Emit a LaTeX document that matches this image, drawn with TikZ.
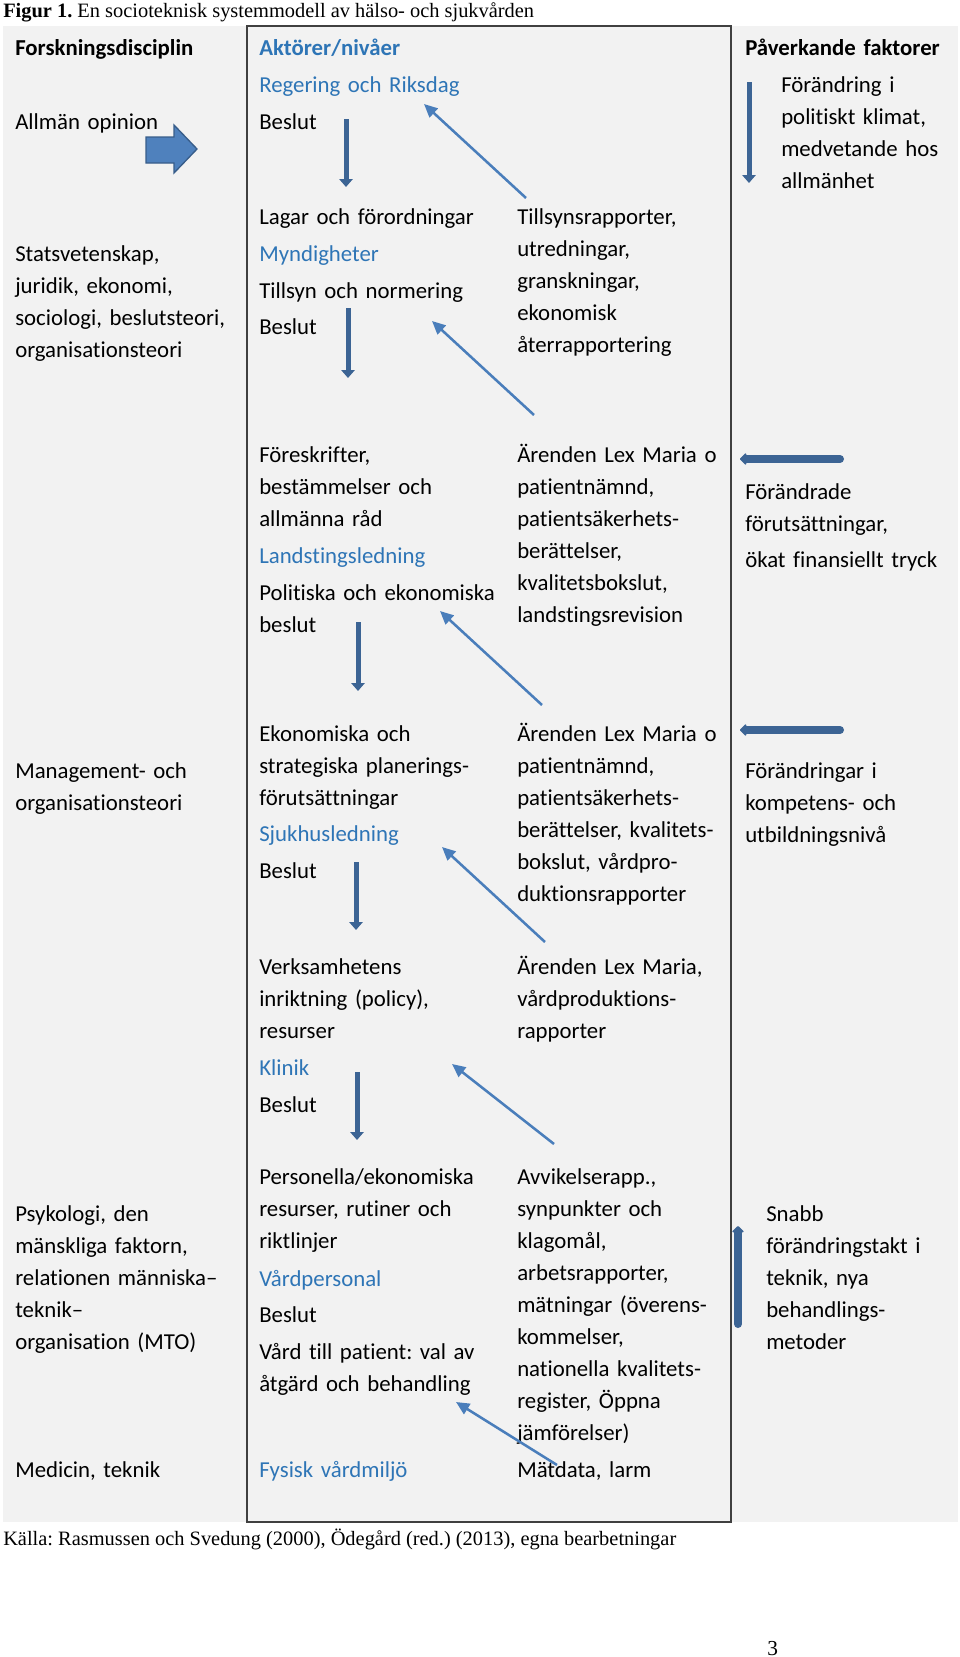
\documentclass[tikz,border=0pt]{standalone}
\usepackage{fontspec}
\setmainfont{Carlito}[Ligatures=NoCommon]
\newfontfamily\tnr{Liberation Serif}
\usetikzlibrary{arrows.meta}
\frenchspacing
\definecolor{bg}{HTML}{F2F2F2}
\definecolor{tblue}{HTML}{2E75B6}
\definecolor{darr}{HTML}{3C6494}
\definecolor{larr}{HTML}{4A7EBB}
\definecolor{bfill}{HTML}{4F81BD}
\definecolor{bdraw}{HTML}{385D8A}
\definecolor{boxline}{HTML}{404040}
\begin{document}
\begin{tikzpicture}[x=0.75pt,y=-0.75pt,
  txt/.style={anchor=base west,inner sep=0pt,align=left,text width=230pt,font=\fontsize{17.1}{24}\selectfont},
  bl/.style={txt,text=tblue},
  hd/.style={txt,font=\fontsize{17.1}{24}\selectfont\bfseries},
  downarr/.style={draw=darr,line width=3.75pt,-{Triangle[length=6pt,width=10pt]}},
  diagarr/.style={draw=larr,line width=1.9pt,-{Triangle[length=10pt,width=9pt]}},
  sidearr/.style={draw=darr,line width=6pt,line cap=round,-{Triangle[length=5pt,width=10pt,round]}},
  caption/.style={anchor=base west,inner sep=0pt,font=\tnr\fontsize{15.3}{18}\selectfont}]
\useasboundingbox (0,0) rectangle (960,1657);
\fill[white] (0,0) rectangle (960,1657);
% backgrounds
\fill[bg] (3,26) rectangle (958,1522);
\draw[boxline,line width=1.1pt] (247,26) rectangle (731,1522);

% title and source
\node[caption] (title) at (3,17) {\textbf{Figur 1.} En socioteknisk systemmodell av hälso- och sjukvården};
\node[caption] (source) at (3,1545) {Källa: Rasmussen och Svedung (2000), Ödegård (red.) (2013), egna bearbetningar};
\node[caption,font=\tnr\fontsize{16}{18}\selectfont] (pnum) at (767,1655) {3};

% column 1
\node[hd] (h1) at (15,55) {Forskningsdisciplin};
\node[txt] (c1a) at (15,129) {Allmän opinion};
\node[txt] (c1b) at (15,261.5) {Statsvetenskap,\\juridik, ekonomi,\\sociologi, beslutsteori,\\organisationsteori};
\node[txt] (c1c) at (15,778) {Management- och\\organisationsteori};
\node[txt] (c1d) at (15,1221.5) {Psykologi, den\\mänskliga faktorn,\\relationen människa–\\teknik–\\organisation (MTO)};
\node[txt] (c1e) at (15,1477.5) {Medicin, teknik};

% column 2
\node[hd,text=tblue] (h2) at (259,55) {Aktörer/nivåer};
\node[bl] (reg) at (259,92) {Regering och Riksdag};
\node[txt] (b1) at (259,129) {Beslut};
\node[txt] (lag) at (259,224.5) {Lagar och förordningar};
\node[bl] (myn) at (259,261.5) {Myndigheter};
\node[txt] (till) at (259,298.5) {Tillsyn och normering};
\node[txt] (b2) at (259,334.5) {Beslut};
\node[txt] (fore) at (259,462.5) {Föreskrifter,\\bestämmelser och\\allmänna råd};
\node[bl] (land) at (259,563) {Landstingsledning};
\node[txt] (pol) at (259,600) {Politiska och ekonomiska\\beslut};
\node[txt] (eko) at (259,741) {Ekonomiska och\\strategiska planerings-\\förutsättningar};
\node[bl] (sjuk) at (259,841.5) {Sjukhusledning};
\node[txt] (b4) at (259,878.5) {Beslut};
\node[txt] (verk) at (259,974) {Verksamhetens\\inriktning (policy),\\resurser};
\node[bl] (klin) at (259,1075.5) {Klinik};
\node[txt] (b5) at (259,1112.5) {Beslut};
\node[txt] (pers) at (259,1184.5) {Personella/ekonomiska\\resurser, rutiner och\\riktlinjer};
\node[bl] (vard) at (259,1286) {Vårdpersonal};
\node[txt] (b6) at (259,1322) {Beslut};
\node[txt] (vpat) at (259,1359) {Vård till patient: val av\\åtgärd och behandling};
\node[bl] (fys) at (259,1477.5) {Fysisk vårdmiljö};

% column 3
\node[txt] (r1) at (517,224.5) {Tillsynsrapporter,\\utredningar,\\granskningar,\\ekonomisk\\återrapportering};
\node[txt] (r2) at (517,462.5) {Ärenden Lex Maria o\\patientnämnd,\\patientsäkerhets-\\berättelser,\\kvalitetsbokslut,\\landstingsrevision};
\node[txt] (r3) at (517,741) {Ärenden Lex Maria o\\patientnämnd,\\patientsäkerhets-\\berättelser, kvalitets-\\bokslut, vårdpro-\\duktionsrapporter};
\node[txt] (r4) at (517,974) {Ärenden Lex Maria,\\vårdproduktions-\\rapporter};
\node[txt] (r5) at (517,1184.5) {Avvikelserapp.,\\synpunkter och\\klagomål,\\arbetsrapporter,\\mätningar (överens-\\kommelser,\\nationella kvalitets-\\register, Öppna\\jämförelser)};
\node[txt] (r6) at (517,1477.5) {Mätdata, larm};

% column 4
\node[hd] (h4) at (745,55) {Påverkande faktorer};
\node[txt] (p1) at (781,92) {Förändring i\\politiskt klimat,\\medvetande hos\\allmänhet};
\node[txt] (p2) at (745,499.5) {Förändrade\\förutsättningar,};
\node[txt] (p2b) at (745,567.5) {ökat finansiellt tryck};
\node[txt] (p3) at (745,778) {Förändringar i\\kompetens- och\\utbildningsnivå};
\node[txt] (p4) at (766,1221.5) {Snabb\\förändringstakt i\\teknik, nya\\behandlings-\\metoder};

% block arrow (Allmän opinion -> actors)
\draw[bdraw,fill=bfill,line width=1pt] (146,137) -- (174,137) -- (174,125) -- (197,149) -- (174,173) -- (174,163) -- (146,163) -- cycle;

% down arrows
\coordinate (d1a) at (346,119); \coordinate (d1b) at (346,187);
\coordinate (d2a) at (348,308); \coordinate (d2b) at (348,378);
\coordinate (d3a) at (358,622); \coordinate (d3b) at (358,691);
\coordinate (d4a) at (356,862); \coordinate (d4b) at (356,930);
\coordinate (d5a) at (357,1072); \coordinate (d5b) at (357,1140);
\draw[downarr] (d1a) -- (d1b);
\draw[downarr] (d2a) -- (d2b);
\draw[downarr] (d3a) -- (d3b);
\draw[downarr] (d4a) -- (d4b);
\draw[downarr] (d5a) -- (d5b);

% diagonal feedback arrows
\coordinate (u1a) at (526,198); \coordinate (u1b) at (424,104);
\coordinate (u2a) at (534,415); \coordinate (u2b) at (432,321);
\coordinate (u3a) at (542,705); \coordinate (u3b) at (440,611);
\coordinate (u4a) at (545,942); \coordinate (u4b) at (442,847);
\coordinate (u5a) at (554,1144); \coordinate (u5b) at (452,1064);
\coordinate (u6a) at (557,1465); \coordinate (u6b) at (456,1402);
\draw[diagarr] (u1a) -- (u1b);
\draw[diagarr] (u2a) -- (u2b);
\draw[diagarr] (u3a) -- (u3b);
\draw[diagarr] (u4a) -- (u4b);
\draw[diagarr] (u5a) -- (u5b);
\draw[diagarr] (u6a) -- (u6b);

% influencing factors arrows
\coordinate (f1a) at (749,82); \coordinate (f1b) at (749,183);
\draw[downarr] (f1a) -- (f1b);
\coordinate (f2a) at (840,459); \coordinate (f2b) at (740,459);
\draw[sidearr] (f2a) -- (f2b);
\coordinate (f3a) at (840,730); \coordinate (f3b) at (740,730);
\draw[sidearr] (f3a) -- (f3b);
\coordinate (f4a) at (738,1324); \coordinate (f4b) at (738,1226);
\draw[sidearr] (f4a) -- (f4b);
\end{tikzpicture}
\end{document}
